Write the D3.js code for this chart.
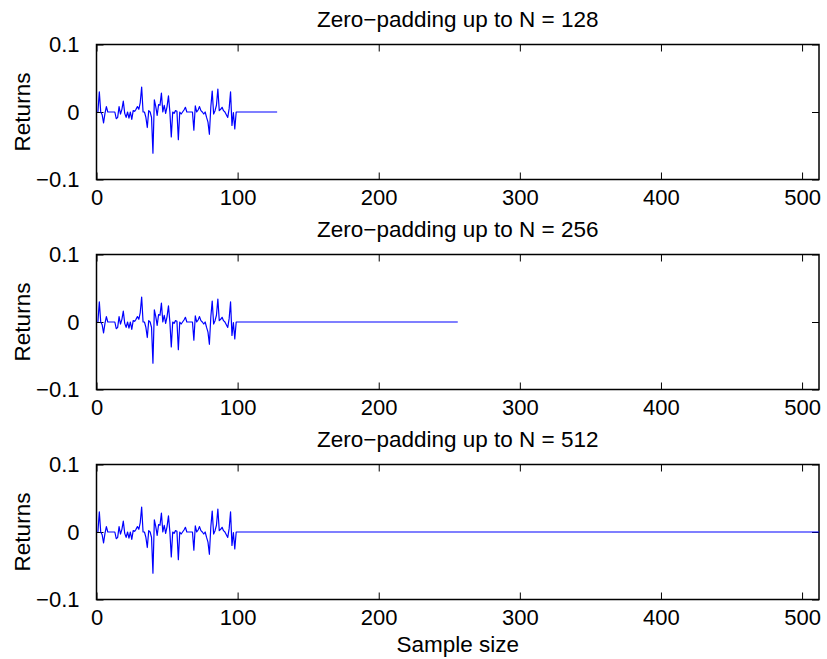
<!DOCTYPE html>
<html>
<head>
<meta charset="utf-8">
<script src="https://cdn.jsdelivr.net/npm/d3@7"></script>
<style>
  body { margin: 0; background: #fff; }
  svg { display: block; font-family: "Liberation Sans", Arial, Helvetica, sans-serif; }
</style>
</head>
<body>
<script>
// first 100 returns
const returns = [
  0.000, 0.030, 0.000, -0.004, -0.016, -0.002, 0.008, 0.000, 0.000, 0.000,
  0.000, 0.000, 0.000, -0.010, -0.008, 0.008, -0.003, 0.004, 0.016, -0.002,
  -0.008, 0.000, -0.009, 0.000, -0.011, 0.002, 0.001, 0.004, 0.008, 0.004,
  0.014, 0.037, 0.000, 0.000, -0.008, -0.023, 0.002, 0.000, -0.008, -0.061,
  0.018, 0.008, -0.005, 0.011, 0.010, 0.028, 0.000, 0.010, -0.002, 0.008,
  0.024, 0.000, -0.037, 0.000, -0.002, 0.002, 0.001, -0.041, 0.000, -0.003,
  0.000, 0.003, 0.007, 0.000, 0.000, 0.000, 0.000, 0.000, -0.027, 0.009,
  0.000, 0.003, 0.008, 0.002, 0.000, -0.003, 0.000, -0.008, -0.015, -0.033,
  0.007, 0.031, -0.003, 0.002, 0.010, 0.034, 0.002, 0.004, 0.007, 0.002,
  0.000, -0.004, -0.008, 0.005, 0.030, -0.020, -0.001, -0.025, 0.000, 0.000
];
const padLengths = [128, 256, 512];
const xTicks = [0, 100, 200, 300, 400, 500];
const yTicks = [-0.1, 0, 0.1];
const xLabel = "Sample size";
const yLabel = "Returns";

const width = 827, height = 659;
const left = 96.5, right = 819;
const panelTop = 44.5, panelH = 135, panelStep = 210;
const tickLen = 7;
const fontSize = 22;

const svg = d3.select("body").append("svg")
  .attr("width", width)
  .attr("height", height);

const x = d3.scaleLinear().domain([0, 512]).range([left, right]);

padLengths.forEach((N, k) => {
  const top = panelTop + k * panelStep;
  const bottom = top + panelH;
  const y = d3.scaleLinear().domain([-0.1, 0.1]).range([bottom, top]);

  // signal followed by zeros up to N
  const series = d3.range(1, N + 1).map(n => ({ n, v: n <= returns.length ? returns[n - 1] : 0 }));

  const g = svg.append("g");

  // axes box
  g.append("rect")
    .attr("x", left).attr("y", top)
    .attr("width", right - left).attr("height", panelH)
    .attr("fill", "none")
    .attr("stroke", "#000")
    .attr("stroke-width", 1.5);

  // inward ticks, bottom + top
  const bx = d3.axisBottom(x).tickValues(xTicks).tickSizeInner(-tickLen).tickSizeOuter(0).tickPadding(10);
  const gx = g.append("g").attr("transform", `translate(0,${bottom})`).call(bx);
  const tx = d3.axisTop(x).tickValues(xTicks).tickSizeInner(-tickLen).tickSizeOuter(0).tickFormat("");
  const gxt = g.append("g").attr("transform", `translate(0,${top})`).call(tx);

  const ly = d3.axisLeft(y).tickValues(yTicks).tickSizeInner(-tickLen).tickSizeOuter(0).tickPadding(17)
    .tickFormat(d => d === 0 ? "0" : d3.format(".1f")(d).replace("-", "\u2212"));
  const gy = g.append("g").attr("transform", `translate(${left},0)`).call(ly);
  const ry = d3.axisRight(y).tickValues(yTicks).tickSizeInner(-tickLen).tickSizeOuter(0).tickFormat("");
  const gyr = g.append("g").attr("transform", `translate(${right},0)`).call(ry);

  [gx, gxt, gy, gyr].forEach(a => {
    a.select(".domain").remove();
    a.selectAll(".tick line").attr("stroke", "#000").attr("stroke-width", 1);
    a.selectAll(".tick text")
      .attr("fill", "#000")
      .style("font-size", fontSize + "px")
      .style("font-family", "'Liberation Sans', Arial, Helvetica, sans-serif");
  });
  gx.selectAll(".tick text").attr("dy", "0.71em");

  // the line goes on top of the ticks
  g.append("path")
    .datum(series)
    .attr("fill", "none")
    .attr("stroke", "#0000ff")
    .attr("stroke-width", 1.2)
    .attr("stroke-linejoin", "round")
    .attr("d", d3.line().x(d => x(d.n)).y(d => y(d.v)));

  // title
  g.append("text")
    .attr("x", (left + right) / 2)
    .attr("y", top - 17.5)
    .attr("text-anchor", "middle")
    .style("font-size", "22.5px")
    .text(`Zero\u2212padding up to N = ${N}`);

  // y label
  g.append("text")
    .attr("transform", `translate(30,${(top + bottom) / 2}) rotate(-90)`)
    .attr("text-anchor", "middle")
    .style("font-size", "22.5px")
    .text(yLabel);
});

svg.append("text")
  .attr("x", (left + right) / 2)
  .attr("y", 652)
  .attr("text-anchor", "middle")
  .style("font-size", "22.5px")
  .text(xLabel);
</script>
</body>
</html>
